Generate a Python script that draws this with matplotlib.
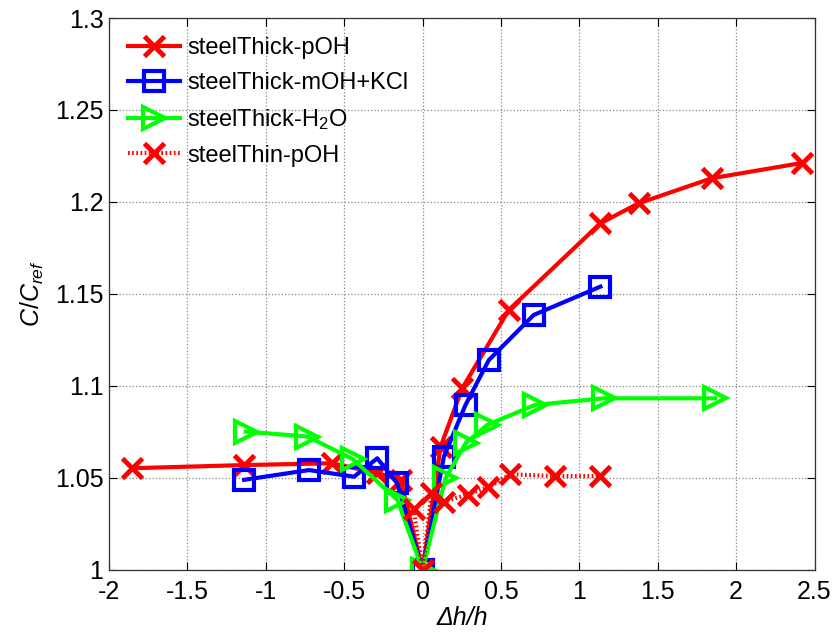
import numpy as np
import matplotlib
matplotlib.use("Agg")
import matplotlib.pyplot as plt

plt.rcParams['font.family'] = ['Liberation Sans', 'DejaVu Sans']
plt.rcParams['mathtext.fontset'] = 'custom'
plt.rcParams['mathtext.rm'] = 'Liberation Sans'
plt.rcParams['mathtext.it'] = 'Liberation Sans:italic'

# steelThick-pOH
x_thick_poh = [-1.85, -1.14, -0.58, -0.29, -0.14, 0.0, 0.115, 0.253, 0.55, 1.134, 1.378, 1.845, 2.419]
y_thick_poh = [1.0553, 1.057, 1.058, 1.0527, 1.049, 1.0, 1.067, 1.0988, 1.1413, 1.1884, 1.1993, 1.2129, 1.2212]

# steelThick-mOH+KCl
x_moh = [-1.138, -0.724, -0.437, -0.289, -0.161, 0.0, 0.136, 0.274, 0.422, 0.709, 1.134]
y_moh = [1.049, 1.0543, 1.0507, 1.0607, 1.047, 1.0, 1.0616, 1.0897, 1.114, 1.1386, 1.154]

# steelThick-H2O
x_h2o = [-1.127, -0.734, -0.446, -0.16, 0.0, 0.146, 0.274, 0.412, 0.717, 1.155, 1.866]
y_h2o = [1.0752, 1.0725, 1.0603, 1.038, 1.0, 1.0498, 1.0688, 1.0788, 1.0897, 1.0933, 1.0933]

# steelThin-pOH
x_thin_poh = [-0.057, 0.0, 0.057, 0.134, 0.287, 0.42, 0.56, 0.847, 1.134]
y_thin_poh = [1.033, 1.0, 1.042, 1.037, 1.041, 1.045, 1.052, 1.051, 1.051]

fig = plt.figure(figsize=(8.35, 6.34), dpi=100)
ax = fig.add_axes([0.1305, 0.101, 0.845, 0.8706])

ax.plot(x_thick_poh, y_thick_poh, '-x', color='r', lw=3, ms=15, mew=3.5, label='steelThick-pOH')
ax.plot(x_moh, y_moh, '-s', color='b', lw=3, ms=14, mew=3, mfc='none', label='steelThick-mOH+KCl')
ax.plot(x_h2o, y_h2o, '->', color=(0, 1, 0), lw=3, ms=16, mew=3, mfc='none', label='steelThick-H$_2$O')
ax.plot(x_thin_poh, y_thin_poh, 'x', color='r', ls=(0, (0.4, 0.6)), lw=3, ms=15, mew=3.5,
        label='steelThin-pOH')

ax.set_xlim(-2, 2.5)
ax.set_ylim(1, 1.3)
ax.set_xticks(np.arange(-2, 2.51, 0.5))
ax.set_xticklabels(['-2', '-1.5', '-1', '-0.5', '0', '0.5', '1', '1.5', '2', '2.5'])
ax.set_yticks(np.arange(1, 1.301, 0.05))
ax.set_yticklabels(['1', '1.05', '1.1', '1.15', '1.2', '1.25', '1.3'])
ax.tick_params(direction='in', labelsize=18, length=6, width=0.8, top=True, right=True)
ax.tick_params(axis='x', pad=7)
ax.tick_params(axis='y', pad=4)
ax.grid(True, linestyle=':', color='#888888', linewidth=0.9)
for s in ax.spines.values():
    s.set_linewidth(0.9)
    s.set_color('#333333')

ax.set_xlabel('Δh/h', fontsize=18, style='italic', labelpad=2)
ax.set_ylabel(r'$\mathit{C/C_{ref}}$', fontsize=18, labelpad=6)

leg = ax.legend(loc='upper left', frameon=False, fontsize=17, handlelength=2.2,
                handletextpad=0.3, labelspacing=0.55, borderaxespad=0.4)

fig.savefig('out.png', dpi=100)
